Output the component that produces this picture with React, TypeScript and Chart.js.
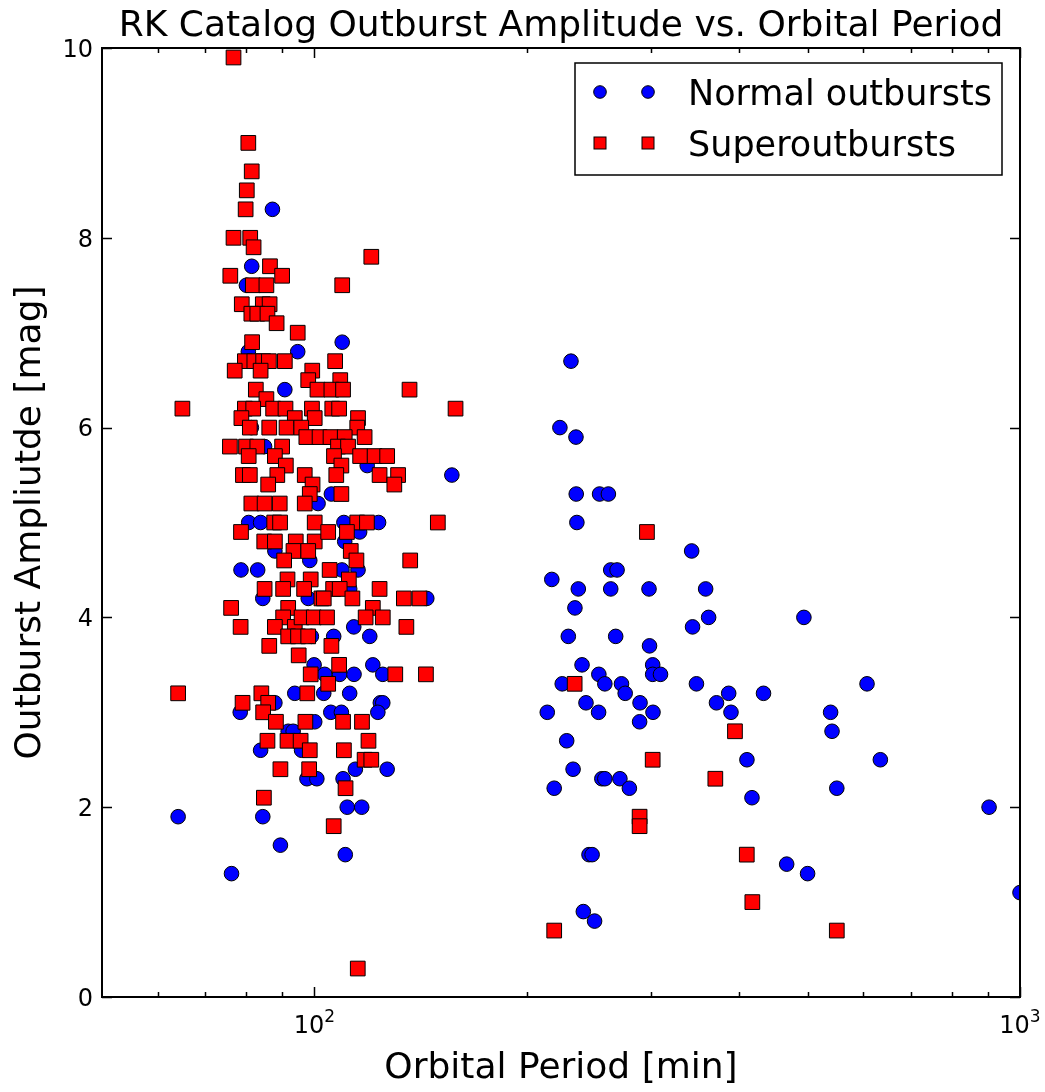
import React, { useEffect, useRef } from "react";
import { Chart, registerables } from "chart.js";

Chart.register(...registerables);

// ---- Data ----
const normalPeriod = [
  87.2, 81.5, 80.1, 80.6, 94.7, 90.8, 81.4, 85.0, 101.2, 80.7,
  83.9, 87.9, 98.5, 78.7, 83.1, 84.5, 98.0, 99.0, 99.9, 93.8,
  78.5, 87.9, 91.8, 93.3, 83.9, 95.9, 97.6, 100.8, 64.1, 84.5,
  89.5, 76.3, 109.5, 118.8, 156.6, 105.7, 110.1, 123.3, 110.4, 115.9,
  109.4, 115.3, 112.2, 144.3, 113.7, 106.5, 119.8, 121.0, 103.4, 108.6,
  113.8, 125.0, 103.1, 112.2, 124.0, 125.0, 123.0, 105.5, 109.2, 100.1,
  114.3, 126.8, 109.8, 111.3, 116.7, 110.6,
  231, 222.8, 234.8, 235, 253.6, 261, 235.5, 342.5, 263, 268.5,
  217, 236.6, 263, 298, 358.5, 234, 362, 343.5, 229, 267.3,
  298.5, 239.5, 301.6, 301.6, 309.4, 253, 224.5, 258, 272.4, 347.9,
  275.7, 242.6, 289.4, 371.4, 213.8, 252.8, 301.9, 289, 227.8, 232.6,
  255.5, 258, 271, 279.5, 218.7, 245, 247.5, 240.5, 249.5, 494,
  386.5, 433, 607, 389.4, 539, 541.5, 410.2, 634, 417, 550,
  904, 467, 500, 1000,
];
const normalAmp = [
  8.3, 7.7, 7.5, 6.8, 6.8, 6.4, 6.0, 5.8, 5.2, 5.0,
  5.0, 4.7, 4.6, 4.5, 4.5, 4.2, 4.2, 3.8, 3.5, 3.2,
  3.0, 3.1, 2.8, 2.8, 2.6, 2.6, 2.3, 2.3, 1.9, 1.9,
  1.6, 1.3, 6.9, 5.6, 5.5, 5.3, 5.0, 5.0, 4.8, 4.9,
  4.5, 4.5, 4.3, 4.2, 3.9, 3.8, 3.8, 3.5, 3.4, 3.4,
  3.4, 3.4, 3.2, 3.2, 3.1, 3.1, 3.0, 3.0, 3.0, 2.9,
  2.4, 2.4, 2.3, 2.0, 2.0, 1.5,
  6.7, 6.0, 5.9, 5.3, 5.3, 5.3, 5.0, 4.7, 4.5, 4.5,
  4.4, 4.3, 4.3, 4.3, 4.3, 4.1, 4.0, 3.9, 3.8, 3.8,
  3.7, 3.5, 3.5, 3.4, 3.4, 3.4, 3.3, 3.3, 3.3, 3.3,
  3.2, 3.1, 3.1, 3.1, 3.0, 3.0, 3.0, 2.9, 2.7, 2.4,
  2.3, 2.3, 2.3, 2.2, 2.2, 1.5, 1.5, 0.9, 0.8, 4.0,
  3.2, 3.2, 3.3, 3.0, 3.0, 2.8, 2.5, 2.5, 2.1, 2.2,
  2.0, 1.4, 1.3, 1.1,
];

const superPeriod = [
  76.8, 80.6, 81.5, 80.2, 79.9, 76.8, 81.1, 82.0, 86.5, 76.0,
  90.0, 81.8, 85.5, 78.9, 84.5, 86.4, 81.4, 83.0, 85.8, 88.4,
  94.7, 81.6, 79.7, 82.2, 84.6, 86.2, 90.8, 77.1, 83.9, 99.3,
  98.0, 82.6, 85.5, 65.0, 79.7, 81.9, 87.4, 91.0, 99.2, 78.8,
  93.8, 100.1, 81.0, 86.3, 91.3, 95.8, 75.9, 80.0, 83.0, 80.7,
  90.0, 87.9, 91.1, 79.2, 81.0, 88.6, 96.9, 99.4, 86.0, 98.5,
  81.4, 85.0, 89.3, 96.9, 87.7, 89.4, 100.1, 78.7, 84.9, 87.9,
  94.1, 100.1, 93.4, 98.0, 90.6, 91.6, 98.8, 85.0, 90.3, 96.7,
  102.3, 76.2, 91.8, 78.6, 90.3, 93.8, 87.9, 91.8, 94.8, 98.0,
  86.3, 95.0, 98.8, 64.1, 97.7, 84.1, 79.1, 86.0, 84.6, 88.2,
  97.1, 85.8, 91.6, 95.6, 98.5, 89.5, 98.3, 84.8, 120.4, 109.5,
  107.0, 108.8, 101.0, 105.7, 109.8, 136.4, 106.0, 108.4, 158.5, 115.3,
  115.0, 97.4, 101.7, 105.4, 110.4, 117.8, 108.0, 111.6, 106.6, 116.1,
  121.7, 126.8, 109.2, 123.7, 131.4, 129.8, 107.4, 109.2, 115.0, 118.7,
  149.6, 104.6, 111.2, 112.6, 114.7, 136.7, 105.1, 111.9, 106.3, 108.6,
  123.7, 103.1, 113.2, 133.9, 140.9, 121.0, 95.9, 99.8, 104.2, 118.2,
  125.0, 135.0, 105.7, 108.4, 130.2, 143.9, 104.6, 109.8, 116.8, 119.3,
  110.1, 117.8, 120.4, 110.7, 106.5, 115.2, 296, 233.8, 301.6, 370,
  289, 289, 218.7, 394.5, 410, 417.5, 550,
];
const superAmp = [
  9.9, 9.0, 8.7, 8.5, 8.3, 8.0, 8.0, 7.9, 7.7, 7.6,
  7.6, 7.5, 7.5, 7.3, 7.3, 7.3, 7.2, 7.2, 7.2, 7.1,
  7.0, 6.9, 6.7, 6.7, 6.7, 6.7, 6.7, 6.6, 6.6, 6.6,
  6.5, 6.4, 6.3, 6.2, 6.2, 6.2, 6.2, 6.2, 6.2, 6.1,
  6.1, 6.1, 6.0, 6.0, 6.0, 6.0, 5.8, 5.8, 5.8, 5.7,
  5.8, 5.7, 5.6, 5.5, 5.5, 5.5, 5.5, 5.4, 5.4, 5.3,
  5.2, 5.2, 5.2, 5.2, 5.0, 5.0, 5.0, 4.9, 4.8, 4.8,
  4.8, 4.8, 4.7, 4.7, 4.6, 4.4, 4.4, 4.3, 4.3, 4.3,
  4.2, 4.1, 4.1, 3.9, 4.0, 3.9, 3.9, 3.8, 3.8, 3.8,
  3.7, 3.6, 3.4, 3.2, 3.2, 3.2, 3.1, 3.1, 3.0, 2.9,
  2.9, 2.7, 2.7, 2.7, 2.6, 2.4, 2.4, 2.1, 7.8, 7.5,
  6.7, 6.5, 6.4, 6.4, 6.4, 6.4, 6.2, 6.2, 6.2, 6.1,
  6.0, 5.9, 5.9, 5.9, 5.9, 5.9, 5.8, 5.8, 5.7, 5.7,
  5.7, 5.7, 5.6, 5.5, 5.5, 5.4, 5.5, 5.3, 5.0, 5.0,
  5.0, 4.9, 4.9, 4.7, 4.6, 4.6, 4.5, 4.4, 4.3, 4.3,
  4.3, 4.2, 4.2, 4.2, 4.2, 4.1, 4.0, 4.0, 4.0, 4.0,
  4.0, 3.9, 3.7, 3.5, 3.4, 3.4, 3.3, 2.9, 2.9, 2.7,
  2.6, 2.5, 2.5, 2.2, 1.8, 0.3, 4.9, 3.3, 2.5, 2.3,
  1.9, 1.8, 0.7, 2.8, 1.5, 1.0, 0.7,
];

const xMajorTicks = [100, 1000];
const xMajorExp = ["2", "3"];
const xMinorTicks = [60, 70, 80, 90, 200, 300, 400, 500, 600, 700, 800, 900];
const yTicks = [0, 2, 4, 6, 8, 10];
const yTickLabels = ["0", "2", "4", "6", "8", "10"];

const titleText = "RK Catalog Outburst Amplitude vs. Orbital Period";
const xLabel = "Orbital Period [min]";
const yLabel = "Outburst Ampliutde [mag]";
const seriesLabels = ["Normal outbursts", "Superoutbursts"];

const FONT = '"DejaVu Sans", "Liberation Sans", sans-serif';
const BLUE = "#0000ff";
const RED = "#ff0000";

const decorPlugin = {
  id: "decor",
  afterDatasetsDraw(chart: any) {
    const { ctx, chartArea: a, scales } = chart;
    const xs = scales.x;
    const ys = scales.y;
    ctx.save();
    ctx.strokeStyle = "#000";
    ctx.lineWidth = 1.5;
    ctx.beginPath();
    for (const v of yTicks) {
      const py = Math.round(ys.getPixelForValue(v)) + 0.5;
      ctx.moveTo(a.left, py);
      ctx.lineTo(a.left + 10, py);
      ctx.moveTo(a.right, py);
      ctx.lineTo(a.right - 10, py);
    }
    for (const v of xMajorTicks) {
      const px = Math.round(xs.getPixelForValue(v)) + 0.5;
      ctx.moveTo(px, a.bottom);
      ctx.lineTo(px, a.bottom - 10);
      ctx.moveTo(px, a.top);
      ctx.lineTo(px, a.top + 10);
    }
    for (const v of xMinorTicks) {
      const px = Math.round(xs.getPixelForValue(v)) + 0.5;
      ctx.moveTo(px, a.bottom);
      ctx.lineTo(px, a.bottom - 5);
      ctx.moveTo(px, a.top);
      ctx.lineTo(px, a.top + 5);
    }
    ctx.stroke();
    ctx.lineWidth = 2;
    ctx.strokeRect(a.left, a.top, a.right - a.left, a.bottom - a.top);

    ctx.fillStyle = "#000";
    // y tick labels
    ctx.font = `24px ${FONT}`;
    ctx.textAlign = "right";
    ctx.textBaseline = "alphabetic";
    yTicks.forEach((v, i) => {
      const py = ys.getPixelForValue(v);
      ctx.fillText(yTickLabels[i], a.left - 9, py + 8.7);
    });
    // x tick labels (10^n)
    xMajorTicks.forEach((v, i) => {
      const px = xs.getPixelForValue(v);
      ctx.font = `24px ${FONT}`;
      const wBase = ctx.measureText("10").width;
      ctx.font = `17px ${FONT}`;
      const wExp = ctx.measureText(xMajorExp[i]).width;
      const x0 = px - (wBase + wExp) / 2;
      ctx.textAlign = "left";
      ctx.font = `24px ${FONT}`;
      ctx.fillText("10", x0, a.bottom + 36);
      ctx.font = `17px ${FONT}`;
      ctx.fillText(xMajorExp[i], x0 + wBase, a.bottom + 25);
    });
    // axis titles
    ctx.font = `36px ${FONT}`;
    ctx.textAlign = "center";
    ctx.fillText(xLabel, (a.left + a.right) / 2, 1078);
    ctx.save();
    ctx.translate(40, (a.top + a.bottom) / 2);
    ctx.rotate(-Math.PI / 2);
    ctx.fillText(yLabel, 0, 0);
    ctx.restore();
    // chart title
    ctx.fillText(titleText, (a.left + a.right) / 2, 36);

    // legend
    const lx = 575, ly = 63, lw = 427, lh = 112;
    ctx.fillStyle = "#fff";
    ctx.fillRect(lx, ly, lw, lh);
    ctx.lineWidth = 1.5;
    ctx.strokeStyle = "#000";
    ctx.strokeRect(lx, ly, lw, lh);
    const rows = [92, 143];
    for (const mx of [600, 648]) {
      ctx.beginPath();
      ctx.arc(mx, rows[0], 6.3, 0, Math.PI * 2);
      ctx.fillStyle = BLUE;
      ctx.fill();
      ctx.lineWidth = 1;
      ctx.strokeStyle = "#000";
      ctx.stroke();
      ctx.fillStyle = RED;
      ctx.fillRect(mx - 6, rows[1] - 6, 12, 12);
      ctx.strokeRect(mx - 6, rows[1] - 6, 12, 12);
    }
    ctx.fillStyle = "#000";
    ctx.font = `35px ${FONT}`;
    ctx.textAlign = "left";
    ctx.fillText(seriesLabels[0], 688, rows[0] + 12.8);
    ctx.fillText(seriesLabels[1], 688, rows[1] + 12.8);
    ctx.restore();
  },
};

export default function App() {
  const ref = useRef<HTMLCanvasElement | null>(null);
  useEffect(() => {
    if (!ref.current) return;
    const normal = normalPeriod.map((p, i) => ({ x: p, y: normalAmp[i] }));
    const sup = superPeriod.map((p, i) => ({ x: p, y: superAmp[i] }));
    const chart = new Chart(ref.current, {
      type: "scatter",
      data: {
        datasets: [
          {
            label: seriesLabels[0],
            data: normal,
            pointStyle: "circle",
            pointRadius: 7.3,
            backgroundColor: BLUE,
            borderColor: "#000",
            borderWidth: 1,
            order: 1,
            clip: 0,
          } as any,
          {
            label: seriesLabels[1],
            data: sup,
            pointStyle: "rect",
            pointRadius: 10.4,
            backgroundColor: RED,
            borderColor: "#000",
            borderWidth: 1,
            order: 0,
            clip: 0,
          } as any,
        ],
      },
      options: {
        animation: false,
        responsive: false,
        events: [],
        layout: { padding: { left: 102, top: 48, right: 25, bottom: 95 } },
        plugins: {
          legend: { display: false },
          tooltip: { enabled: false },
          title: { display: false },
        },
        scales: {
          x: { type: "logarithmic", min: 50, max: 1000, display: false },
          y: { type: "linear", min: 0, max: 10, display: false },
        },
      },
      plugins: [decorPlugin],
    });
    return () => chart.destroy();
  }, []);
  return (
    <div style={{ position: "absolute", left: 0, top: 0, width: 1045, height: 1092, background: "#fff" }}>
      <canvas ref={ref} width={1045} height={1092} style={{ display: "block" }} />
    </div>
  );
}
